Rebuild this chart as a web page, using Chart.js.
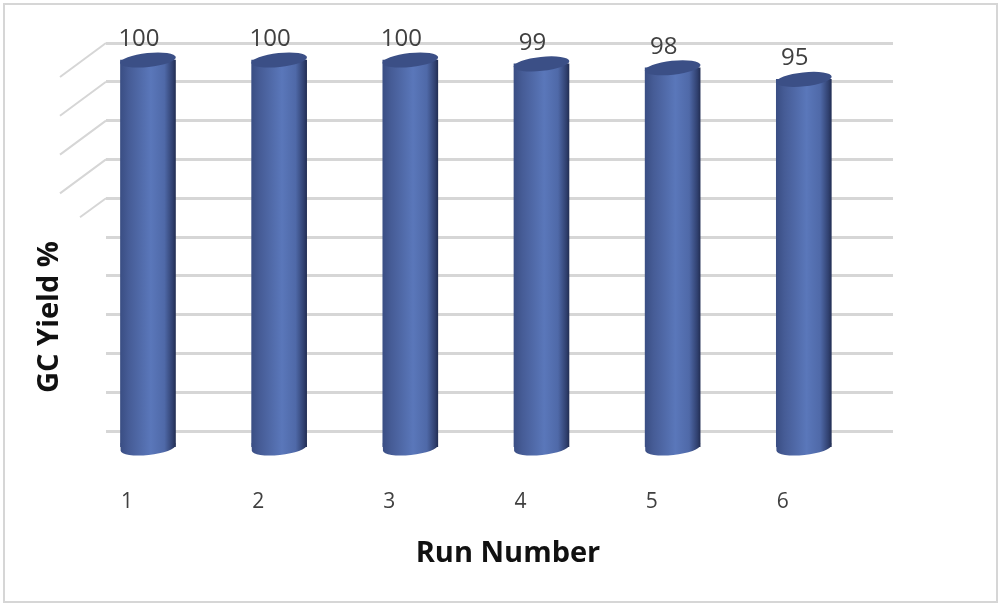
<!DOCTYPE html>
<html>
<head>
<meta charset="utf-8">
<title>GC Yield</title>
<script src="https://cdn.jsdelivr.net/npm/chart.js@4"></script>
<style>
  html, body { margin: 0; padding: 0; background: #fff; }
  #wrap { position: relative; width: 1000px; height: 604px; }
  #frame { position: absolute; left: 3px; top: 3px; width: 991px; height: 596px; border: 2px solid #d6d6d6; pointer-events: none; }
</style>
</head>
<body>
<div id="wrap">
  <canvas id="chart" width="1000" height="604"></canvas>
  <div id="frame"></div>
</div>
<script>
const runs = [1, 2, 3, 4, 5, 6];
const yields = [100, 100, 100, 99, 98, 95];
const gridTicks = [0, 10, 20, 30, 40, 50, 60, 70, 80, 90, 100];
const wallTicks = [100, 90, 80, 70, 60];
const xTitle = "Run Number";
const yTitle = "GC Yield %";
const barWidth = 55;
const tilt = -6 * Math.PI / 180;

function barGradient(ctx, x) {
  const g = ctx.createLinearGradient(x - barWidth / 2, 0, x + barWidth / 2, 0);
  g.addColorStop(0, "#3a4e84");
  g.addColorStop(0.15, "#465c96");
  g.addColorStop(0.55, "#5a77ba");
  g.addColorStop(0.8, "#4f69a8");
  g.addColorStop(0.95, "#30406f");
  g.addColorStop(1, "#232f55");
  return g;
}

// fake 3D look: caps, data labels, side wall and axis titles
const cylinder = {
  id: "cylinder",
  beforeDatasetsDraw(chart) {
    const { ctx } = chart;
    const grid = chart.scales.yGrid;
    ctx.save();
    ctx.strokeStyle = "#d6d6d6";
    ctx.lineWidth = 2;
    wallTicks.forEach((t, i) => {
      const y = grid.getPixelForValue(t);
      const last = i === wallTicks.length - 1;
      ctx.beginPath();
      ctx.moveTo(chart.chartArea.left, y);
      ctx.lineTo(chart.chartArea.left - (last ? 26 : 46), y + (last ? 19 : 34));
      ctx.stroke();
    });
    ctx.restore();
  },
  afterDatasetsDraw(chart) {
    const { ctx } = chart;
    const bars = chart.getDatasetMeta(0).data;
    bars.forEach((bar, i) => {
      ctx.save();
      // bottom edge, lower half of a tilted ellipse joined back up into the bar
      ctx.fillStyle = barGradient(ctx, bar.x);
      ctx.beginPath();
      ctx.ellipse(bar.x, bar.base + 1, barWidth / 2, 7, tilt, 0, Math.PI);
      ctx.lineTo(bar.x - barWidth / 2, bar.base - 4);
      ctx.lineTo(bar.x + barWidth / 2, bar.base - 4);
      ctx.closePath();
      ctx.fill();
      // top cap
      ctx.fillStyle = "#3b4f86";
      ctx.beginPath();
      ctx.ellipse(bar.x, bar.y, barWidth / 2 + 0.5, 7, tilt, 0, Math.PI * 2);
      ctx.fill();
      // value label
      ctx.fillStyle = "#404040";
      ctx.font = "24px 'Open Sans'";
      ctx.textAlign = "center";
      ctx.textBaseline = "middle";
      ctx.fillText(String(yields[i]), bar.x - 9, bar.y - 21);
      ctx.restore();
    });
    ctx.save();
    ctx.fillStyle = "#111";
    ctx.font = "bold 29px 'Open Sans'";
    ctx.textAlign = "center";
    ctx.textBaseline = "middle";
    ctx.fillText(xTitle, 508, 554);
    ctx.translate(50, 317);
    ctx.rotate(-Math.PI / 2);
    ctx.fillText(yTitle, 0, 0);
    ctx.restore();
  },
};

new Chart(document.getElementById("chart"), {
  type: "bar",
  data: {
    datasets: [
      {
        data: runs.map((r, i) => ({ x: r, y: yields[i] })),
        barThickness: barWidth,
        backgroundColor: (c) => {
          const px = c.raw ? c.chart.scales.x.getPixelForValue(c.raw.x) : NaN;
          return Number.isFinite(px) ? barGradient(c.chart.ctx, px) : "#4f68a6";
        },
        borderWidth: 0,
      },
    ],
  },
  plugins: [cylinder],
  options: {
    responsive: false,
    animation: false,
    layout: { padding: { left: 106, right: 107, top: 43, bottom: 0 } },
    plugins: { legend: { display: false }, tooltip: { enabled: false } },
    scales: {
      x: {
        type: "linear",
        offset: false,
        min: 0.68,
        max: 6.68,
        afterBuildTicks: (s) => { s.ticks = runs.map((r) => ({ value: r })); },
        afterFit: (s) => { s.height = 157; },
        grid: { display: false },
        border: { display: false },
        ticks: {
          padding: 34,
          labelOffset: -21,
          maxRotation: 0,
          autoSkip: false,
          color: "#404040",
          font: { family: "'Open Sans'", size: 21 },
        },
      },
      y: { display: false, min: 0, max: 104.4 },
      yGrid: {
        position: "left",
        min: -4.12,
        max: 100,
        afterBuildTicks: (s) => { s.ticks = gridTicks.map((v) => ({ value: v })); },
        afterFit: (s) => { s.width = 0; },
        grid: { color: "#d6d6d6", lineWidth: 3, drawTicks: false },
        border: { display: false },
        ticks: { display: false },
      },
    },
  },
});
</script>
</body>
</html>
